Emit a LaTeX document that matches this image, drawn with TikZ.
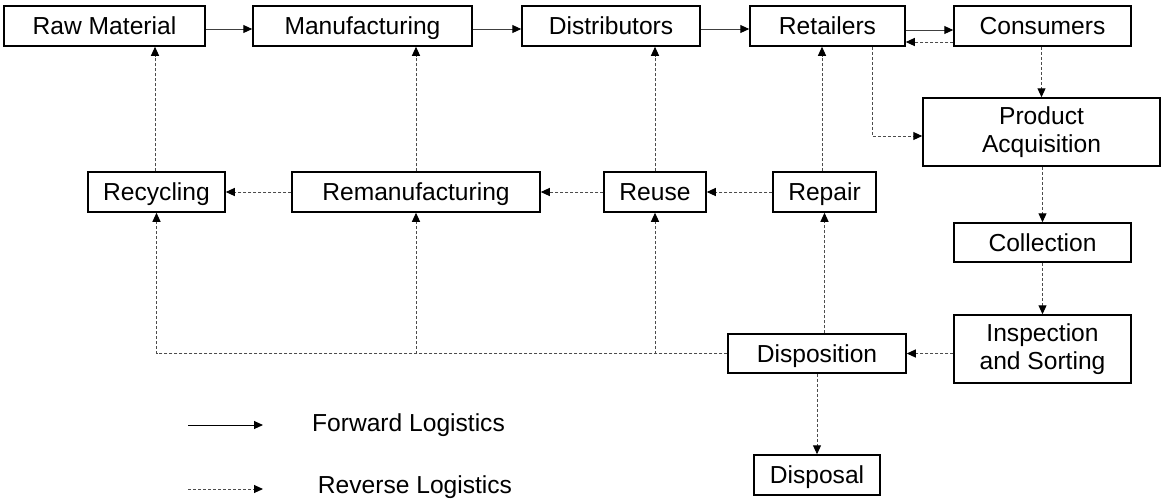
\documentclass[tikz,border=0pt]{standalone}
\usepackage{fontspec}
\setmainfont{Liberation Sans}
\usetikzlibrary{arrows.meta,calc}
\begin{document}
\begin{tikzpicture}[x=0.5pt,y=-0.5pt,
  tbox/.style={draw=black,line width=0.75pt,inner sep=0pt,align=center,
    font=\fontsize{12.3}{14}\selectfont,minimum height=20pt},
  box/.style={tbox,text height=8.8pt,text depth=0pt},
  tip/.style={-{Triangle[length=4.5pt,width=4pt,color=black,fill=black]}},
  fwd/.style={draw=black!75,line width=0.5pt,tip},
  rev/.style={draw=black!70,line width=0.5pt,dash pattern=on 1.5pt off 1pt,tip},
  revline/.style={draw=black!70,line width=0.5pt,dash pattern=on 1.5pt off 1pt},
  legend/.style={font=\fontsize{12.3}{14}\selectfont,inner sep=0pt,
    text height=8.8pt,text depth=0pt}]
\useasboundingbox (0,0) rectangle (1161,500);

% forward chain
\node[box,minimum width=100.5pt] (raw)  at (104.5,26) {Raw Material};
\node[box,minimum width=109.5pt] (manu) at (362.5,26) {Manufacturing};
\node[box,minimum width=89pt]    (dist) at (611,26)   {Distributors};
\node[box,minimum width=77.5pt]  (ret)  at (827.5,26) {Retailers};
\node[box,minimum width=88.5pt]  (cons) at (1042.5,26) {Consumers};

% recovery options
\node[box,minimum width=68.5pt]  (recy)   at (156.5,192) {Recycling};
\node[box,minimum width=124pt]   (reman)  at (416,192)   {Remanufacturing};
\node[box,minimum width=51pt]    (reuse)  at (655,192)   {Reuse};
\node[box,minimum width=51.5pt]  (repair) at (824.5,192) {Repair};

% reverse process
\node[tbox,minimum width=118.5pt,minimum height=34pt] (pa) at (1041.5,132) {Product\\Acquisition};
\node[box,minimum width=88.5pt,minimum height=19.5pt] (coll) at (1042.5,242.5) {Collection};
\node[tbox,minimum width=88.5pt,minimum height=34pt] (insp) at (1042.5,349) {Inspection\\and Sorting};
\node[box,minimum width=89pt,minimum height=19.5pt] (disp) at (817,353.5) {Disposition};
\node[box,minimum width=63pt] (dispo) at (817,475) {Disposal};

% forward flows
\draw[fwd] ([yshift=-1.5pt]raw.east)  -- ([yshift=-1.5pt]manu.west);
\draw[fwd] ([yshift=-1.5pt]manu.east) -- ([yshift=-1.5pt]dist.west);
\draw[fwd] ([yshift=-1.5pt]dist.east) -- ([yshift=-1.5pt]ret.west);
\draw[fwd] ([yshift=-2pt]ret.east)    -- ([yshift=-2pt]cons.west);

% returns from the market
\draw[rev] ([yshift=-8pt]cons.west) -- ([yshift=-8pt]ret.east);
\draw[rev] (cons.south -| pa.north) -- (pa.north);
\draw[rev] ([xshift=22.25pt]ret.south) |- ([yshift=-2pt]pa.west);
\draw[rev] (pa.south -| coll.north) -- (coll.north);
\draw[rev] (coll.south) -- (insp.north);
\draw[rev] (insp.west |- disp.east) -- (disp.east);
\draw[rev] (disp.south) -- (dispo.north);

% disposition to recovery options
\coordinate (j1) at (recy.south |- disp.west);
\draw[revline] (disp.west) -- (j1);
\draw[rev] (j1) -- (recy.south);
\draw[rev] (reman.south |- disp.west) -- (reman.south);
\draw[rev] (reuse.south |- disp.west) -- (reuse.south);
\draw[rev] (repair.south |- disp.north) -- (repair.south);

% cascade between recovery options
\draw[rev] (repair.west) -- (reuse.east);
\draw[rev] (reuse.west) -- (reman.east);
\draw[rev] (reman.west) -- (recy.east);

% recovered products back into the chain
\draw[rev] ([xshift=-1.25pt]repair.north) -- ([xshift=-1.25pt]repair.north |- ret.south);
\draw[rev] (reuse.north) -- (reuse.north |- dist.south);
\draw[rev] (reman.north) -- (reman.north |- manu.south);
\draw[rev] ([xshift=-0.75pt]recy.north) -- ([xshift=-0.75pt]recy.north |- raw.south);

% legend
\coordinate (fa) at (188,425);
\coordinate (fb) at (263,425);
\coordinate (ra) at (188,489);
\coordinate (rb) at (263,489);
\draw[fwd,draw=black] (fa) -- (fb);
\draw[rev] (ra) -- (rb);
\node[legend] (fl) at (408.5,423) {Forward Logistics};
\node[legend] (rl) at (415,485) {Reverse Logistics};
\end{tikzpicture}
\end{document}
